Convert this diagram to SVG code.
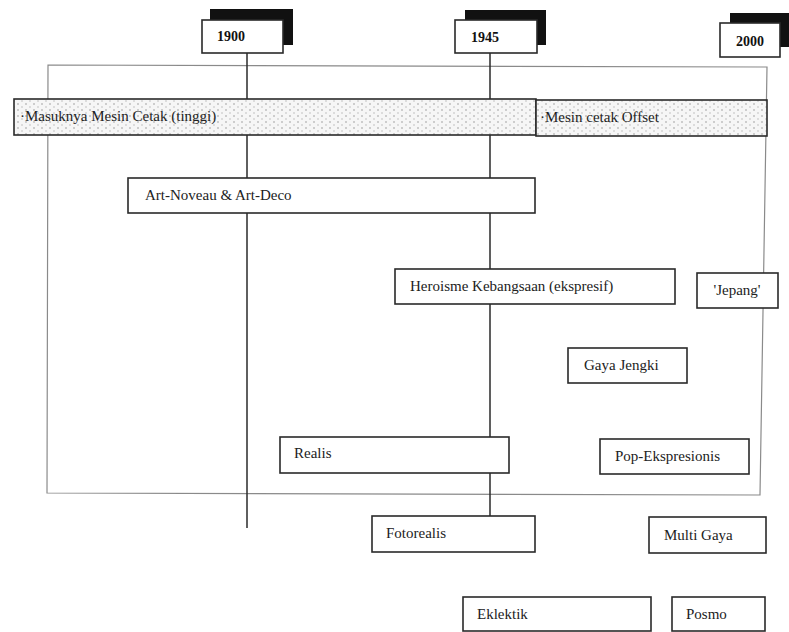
<svg xmlns="http://www.w3.org/2000/svg" width="789" height="632" viewBox="0 0 789 632">
<defs>
<pattern id="dots" width="8" height="6" patternUnits="userSpaceOnUse">
<rect width="8" height="6" fill="#f6f6f6"/>
<circle cx="2" cy="2" r="0.8" fill="#999"/>
<circle cx="6" cy="5" r="0.8" fill="#bbb"/>
</pattern>
</defs>
<style>
.box{fill:#fff;stroke:#2a2a2a;stroke-width:1.6}
.band{fill:url(#dots);stroke:#2a2a2a;stroke-width:1.6}
.lbl{font-family:"Liberation Serif","Times New Roman",serif;font-size:15px;fill:#222}
.yr{font-family:"Liberation Serif","Times New Roman",serif;font-size:14px;font-weight:bold;fill:#111}
.shadow{fill:#111}
.ln{stroke:#2a2a2a;stroke-width:1.5;fill:none}
.frame{fill:none;stroke:#8a8a8a;stroke-width:1.2}
</style>
<rect width="789" height="632" fill="#fff"/>
<g id="frame"><path class="frame" d="M48 65 L767 67 L760 495 L47 493 Z"/></g>
<g id="connectors">
<line class="ln" x1="247" y1="52" x2="247" y2="528"/>
<line class="ln" x1="490" y1="52" x2="490" y2="517"/>
</g>
<g id="y1900"><rect class="shadow" x="210" y="9" width="83" height="36"/><rect class="box" x="202" y="20" width="81" height="33"/><text class="yr" x="231" y="41" text-anchor="middle">1900</text></g>
<g id="y1945"><rect class="shadow" x="465" y="10" width="81" height="35"/><rect class="box" x="455" y="20" width="82" height="33"/><text class="yr" x="485" y="42" text-anchor="middle">1945</text></g>
<g id="y2000"><rect class="shadow" x="730" y="13" width="59" height="34"/><rect class="box" x="720" y="23" width="60" height="34"/><text class="yr" x="750" y="46" text-anchor="middle">2000</text></g>
<g id="band1"><rect class="band" x="14" y="99" width="522" height="36"/><text class="lbl" x="20" y="121">·Masuknya Mesin Cetak (tinggi)</text></g>
<g id="band2"><rect class="band" x="536" y="100" width="231" height="36"/><text class="lbl" x="540" y="122">·Mesin cetak Offset</text></g>
<g id="artnouveau"><rect class="box" x="128" y="178" width="407" height="35"/><text class="lbl" x="145" y="200">Art-Noveau &amp; Art-Deco</text></g>
<g id="heroisme"><rect class="box" x="395" y="269" width="280" height="35"/><text class="lbl" x="410" y="291">Heroisme Kebangsaan (ekspresif)</text></g>
<g id="jepang"><rect class="box" x="697" y="273" width="81" height="35"/><text class="lbl" x="737" y="295" text-anchor="middle">'Jepang'</text></g>
<g id="jengki"><rect class="box" x="568" y="348" width="119" height="35"/><text class="lbl" x="584" y="370">Gaya Jengki</text></g>
<g id="realis"><rect class="box" x="280" y="437" width="229" height="36"/><text class="lbl" x="294" y="458">Realis</text></g>
<g id="pop"><rect class="box" x="600" y="439" width="149" height="35"/><text class="lbl" x="615" y="461">Pop-Ekspresionis</text></g>
<g id="fotorealis"><rect class="box" x="372" y="516" width="163" height="36"/><text class="lbl" x="386" y="538">Fotorealis</text></g>
<g id="multigaya"><rect class="box" x="649" y="517" width="117" height="36"/><text class="lbl" x="664" y="540">Multi Gaya</text></g>
<g id="eklektik"><rect class="box" x="463" y="597" width="188" height="34"/><text class="lbl" x="477" y="619">Eklektik</text></g>
<g id="posmo"><rect class="box" x="672" y="597" width="93" height="34"/><text class="lbl" x="686" y="619">Posmo</text></g>
</svg>
